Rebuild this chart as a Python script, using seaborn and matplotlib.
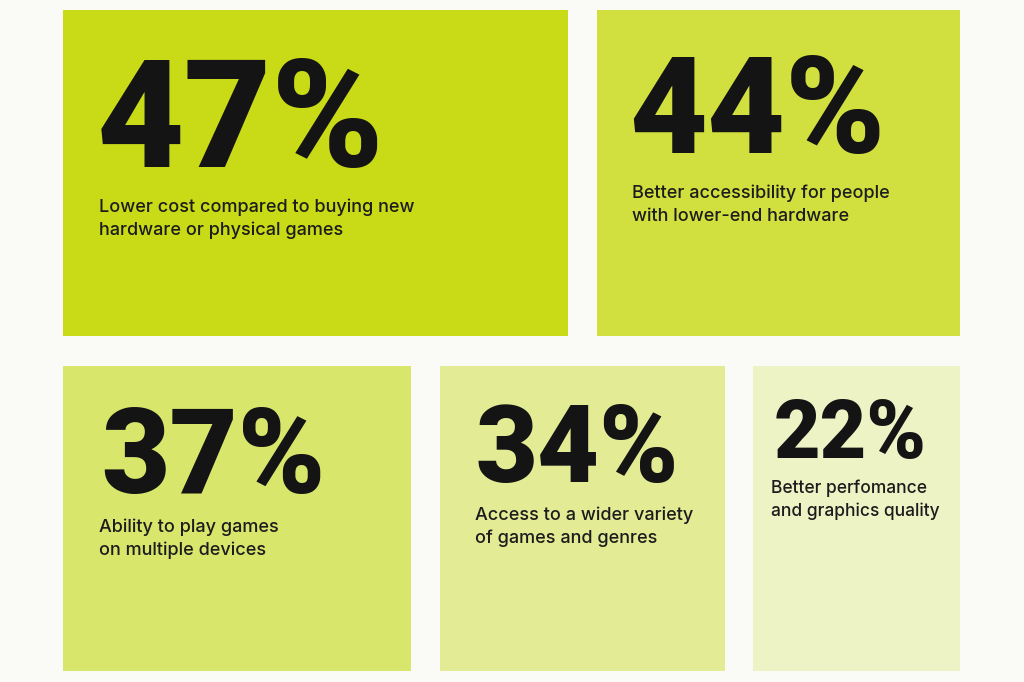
import matplotlib.pyplot as plt
import seaborn as sns
from matplotlib.patches import Rectangle

# survey shares and their labels
values = [47, 44, 37, 34, 22]
captions = [
    ["Lower cost compared to buying new", "hardware or physical games"],
    ["Better accessibility for people", "with lower-end hardware"],
    ["Ability to play games", "on multiple devices"],
    ["Access to a wider variety", "of games and genres"],
    ["Better perfomance", "and graphics quality"],
]

###

tile_colors = ["#c9da17", "#d1e03e", "#d9e66c", "#e3ec95", "#eef3c6"]
# tile boxes in pixel space: left, top, right, bottom
tiles = [(63, 10, 568, 336), (597, 10, 960, 336),
         (63, 366, 411, 671), (440, 366, 725, 671), (753, 366, 960, 671)]
# big number: x, baseline, size (pt)
num_pos = [(97, 167, 109), (629, 153, 97), (101, 493, 85), (475, 482, 77), (774, 458, 58)]
# caption: x, first baseline, size (pt)
cap_pos = [(99, 212, 13), (632, 198, 13), (99, 532, 13), (475, 520, 13), (771, 493, 12.5)]
line_step = 23

sns.set_theme(style="white")
plt.rcParams['font.family'] = ['Inter', 'DejaVu Sans']

fig = plt.figure(figsize=(10.24, 6.82), dpi=100, facecolor="#fafaf7")
ax = fig.add_axes([0, 0, 1, 1])
ax.set_xlim(0, 1024)
ax.set_ylim(682, 0)
ax.set_facecolor("#fafaf7")
ax.axis("off")

for i, val in enumerate(values):
    l, t, r, b = tiles[i]
    ax.add_patch(Rectangle((l, t), r - l, b - t, facecolor=tile_colors[i], edgecolor="none"))

    x, y, size = num_pos[i]
    ax.text(x, y, f"{val}%", fontsize=size, fontweight=900, color="#141414",
            family=["Roboto", "DejaVu Sans"], ha="left", va="baseline")

    cx, cy, csize = cap_pos[i]
    for k, line in enumerate(captions[i]):
        ax.text(cx, cy + k * line_step, line, fontsize=csize, fontweight=500,
                color="#1c1c1c", ha="left", va="baseline")

fig.savefig("out.png", dpi=100, facecolor=fig.get_facecolor())
